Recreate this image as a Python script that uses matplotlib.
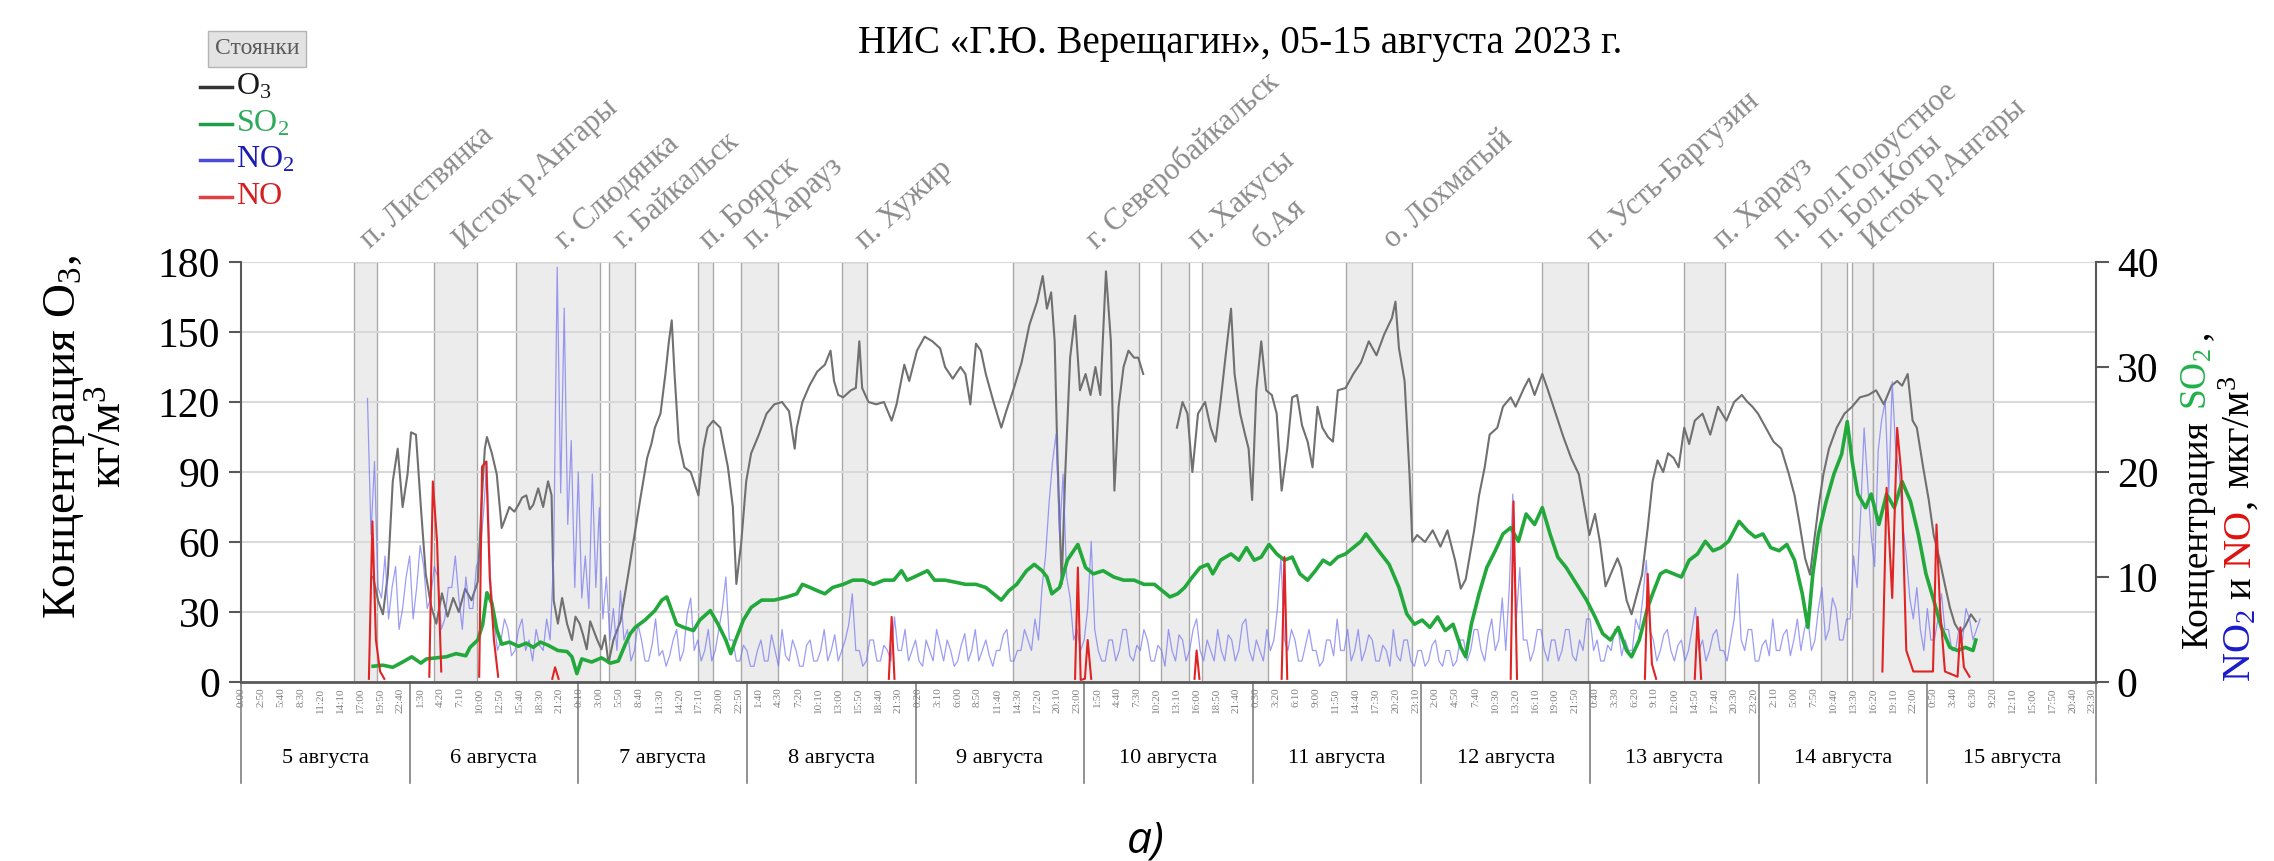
import numpy as np
import matplotlib
matplotlib.use('Agg')
import matplotlib.pyplot as plt
from matplotlib.lines import Line2D
from matplotlib.transforms import IdentityTransform, blended_transform_factory

plt.rcParams['font.family'] = ['Liberation Serif', 'DejaVu Serif']
plt.rcParams['mathtext.fontset'] = 'custom'
plt.rcParams['mathtext.rm'] = 'Liberation Serif'
plt.rcParams['mathtext.it'] = 'Liberation Serif:italic'
plt.rcParams['mathtext.bf'] = 'Liberation Serif:bold'
nan = np.nan

# time axis: hours from 5 Aug 2023 00:00
o3_hours = [18.8, 19.5, 20.2, 20.9, 21.6, 22.3, 23.0, 23.7, 24.2, 24.9, 25.6, 26.3, 27.1, 27.8,
            28.6, 29.4, 30.2, 31.0, 31.9, 32.8, 33.7, 34.2, 34.7, 35.0, 35.7, 36.4, 37.1, 37.6,
            38.2, 38.9, 39.5, 40.0, 40.6, 41.1, 41.6, 42.3, 43.0, 43.7, 44.2, 44.5, 45.1, 45.7,
            46.4, 47.1, 47.6, 48.2, 48.7, 49.2, 49.7, 50.2, 50.7, 51.3, 51.8, 52.3, 53.0, 53.5,
            54.0, 55.1, 56.1, 56.8, 57.8, 58.4, 58.9, 59.7, 60.4, 60.9, 61.3, 61.7, 62.3, 63.1,
            64.0, 65.1, 65.8, 66.4, 67.2, 68.2, 69.3, 70.0, 70.5, 71.2, 71.9, 72.6, 73.7, 74.8,
            75.9, 77.0, 78.0, 78.8, 79.1, 79.9, 80.9, 82.0, 83.1, 83.9, 84.4, 85.0, 85.7, 86.8,
            87.5, 88.0, 88.4, 89.3, 90.4, 91.5, 92.6, 93.3, 94.4, 95.1, 96.2, 97.3, 98.4, 99.5,
            100.2, 101.3, 102.4, 103.1, 103.8, 104.6, 105.3, 106.0, 107.1, 108.2, 108.9, 110.0,
            111.1, 112.2, 113.3, 114.1, 114.7, 115.3, 115.8, 116.2, 116.8, 117.3, 118.0, 118.7,
            119.4, 120.2, 120.9, 121.6, 122.3, 123.1, 123.8, 124.3, 124.9, 125.6, 126.3, 127.1,
            127.7, 128.4, 130.0, 133.2, 134.0, 134.7, 135.4, 136.2, 137.2, 138.0, 138.7, 139.4,
            140.1, 140.9, 141.4, 142.2, 142.9, 143.4, 143.9, 144.5, 145.2, 145.9, 146.7, 147.4,
            148.1, 148.9, 149.6, 150.3, 151.0, 151.8, 152.5, 153.2, 153.9, 154.7, 155.4, 156.1,
            157.2, 158.3, 159.4, 160.5, 161.6, 162.7, 163.8, 164.3, 164.8, 165.6, 166.3, 166.7,
            167.4, 168.5, 169.6, 170.7, 171.7, 172.8, 173.6, 174.3, 175.5, 176.2, 177.0, 177.7,
            178.8, 179.6, 180.7, 181.4, 182.6, 183.3, 184.1, 185.2, 185.9, 187.1, 188.2, 189.3,
            190.4, 191.2, 191.9, 192.7, 193.4, 194.2, 194.9, 195.9, 196.4, 197.2, 197.9, 198.7,
            199.4, 200.2, 200.9, 201.6, 202.4, 203.1, 203.9, 204.6, 205.4, 206.1, 206.9, 208.0,
            209.1, 210.2, 211.4, 212.5, 213.6, 214.4, 215.1, 215.9, 217.0, 218.1, 219.2, 220.3,
            221.1, 221.8, 222.6, 223.3, 223.7, 224.5, 225.2, 226.0, 227.1, 228.2, 229.3, 230.4,
            231.6, 232.7, 233.8, 234.9, 235.7, 236.4, 237.2, 237.9, 238.5, 239.4, 240.2, 240.9,
            241.7, 242.4, 243.2, 243.9, 244.7, 245.4, 246.2, 246.9]
o3_values = [45, 35, 29, 46, 86, 100, 75, 89, 107, 106, 75, 46, 32, 25,
             38, 28, 36, 30, 40, 35, 43, 75, 100, 105, 98, 89, 66, 70,
             75, 73, 76, 79, 80, 74, 76, 83, 75, 86, 80, 35, 25, 36,
             25, 18, 28, 25, 20, 14, 26, 22, 18, 14, 20, 8, 18, 22,
             26, 46, 65, 78, 96, 102, 109, 115, 132, 146, 155, 132, 103, 92,
             90, 80, 100, 109, 112, 109, 92, 75, 42, 60, 86, 98, 106, 115,
             119, 120, 116, 100, 109, 120, 127, 133, 136, 142, 129, 123, 122, 125,
             126, 146, 126, 120, 119, 120, 112, 119, 136, 129, 142, 148, 146, 143,
             135, 130, 135, 132, 119, 145, 142, 132, 120, 109, 116, 126,
             137, 153, 163, 174, 160, 167, 146, 96, 42, 89, 139, 157,
             125, 132, 123, 135, 123, 176, 146, 82, 118, 135, 142, 139,
             139, 132, nan, 109, 120, 115, 90, 115, 120, 109, 103, 120,
             139, 160, 132, 115, 106, 100, 78, 125, 146, 125, 123, 115,
             82, 100, 122, 123, 110, 103, 92, 118, 109, 105, 103, 125,
             126, 132, 137, 146, 140, 149, 156, 163, 143, 129, 89, 60,
             63, 60, 65, 58, 65, 52, 40, 44, 65, 80, 92, 106,
             109, 118, 122, 118, 126, 130, 123, 132, 126, 115, 105, 96,
             89, 75, 63, 72, 60, 41, 46, 53, 49, 35, 29, 38,
             46, 66, 86, 95, 90, 98, 96, 92, 109, 102, 112, 115,
             106, 118, 112, 120, 123, 120, 118, 115, 109, 103, 100, 89,
             80, 68, 53, 46, 56, 75, 89, 100, 109, 115, 118, 122,
             123, 125, 119, 127, 129, 127, 132, 112, 109, 92, 78, 63,
             53, 43, 32, 25, 21, 24, 29, 26]

so2_hours = [18.8, 20.2, 21.6, 23.0, 24.3, 25.6, 26.4, 27.8, 29.2, 30.6, 32.0, 32.6, 33.7, 34.4,
             35.0, 35.7, 36.4, 37.1, 38.2, 39.5, 40.6, 41.6, 42.6, 43.7, 45.1, 46.4, 47.1, 47.8,
             48.5, 49.9, 51.3, 52.6, 53.7, 54.7, 55.4, 56.1, 57.5, 58.9, 59.9, 60.6, 61.3, 62.0,
             63.0, 64.4, 65.3, 66.8, 67.9, 69.0, 69.7, 70.4, 71.5, 72.6, 74.1, 75.9, 77.7, 79.1,
             79.9, 81.0, 82.0, 83.1, 84.2, 85.7, 87.1, 88.6, 90.0, 91.5, 92.9, 94.0, 94.8, 95.8,
             97.7, 98.7, 100.2, 101.7, 103.1, 104.6, 106.0, 107.1, 108.2, 109.3, 110.4, 111.8,
             112.9, 114.0, 114.7, 115.4, 116.5, 117.6, 119.1, 120.2, 121.3, 122.7, 124.2, 125.6,
             127.1, 128.5, 130.0, 131.1, 132.2, 133.3, 134.3, 135.4, 136.5, 137.6, 138.3, 139.4,
             140.9, 142.0, 143.1, 144.2, 145.2, 146.3, 147.4, 148.5, 149.6, 150.7, 151.8, 152.9,
             154.0, 155.0, 156.1, 157.2, 158.3, 159.4, 160.1, 160.9, 161.9, 163.4, 164.8, 165.9,
             167.0, 168.1, 169.2, 170.3, 171.4, 172.5, 173.6, 174.3, 175.1, 176.2, 177.3, 178.5,
             179.6, 180.7, 181.8, 182.9, 184.1, 185.2, 186.3, 187.4, 188.6, 190.1, 191.5, 192.7,
             193.8, 194.9, 196.0, 197.2, 197.9, 199.0, 200.2, 200.9, 202.0, 202.8, 203.9, 205.0,
             206.1, 207.3, 208.4, 209.5, 210.6, 211.7, 213.2, 214.4, 215.5, 216.6, 217.7, 218.9,
             220.0, 221.1, 222.2, 223.0, 223.7, 224.5, 225.6, 226.7, 227.8, 228.6, 229.3, 230.1,
             231.2, 232.0, 233.1, 234.2, 235.3, 236.4, 237.6, 238.7, 239.8, 240.9, 242.0, 243.2,
             244.3, 245.4, 246.5, 246.9]
so2_values = [1.5, 1.6, 1.4, 1.9, 2.4, 1.8, 2.2, 2.3, 2.4, 2.7, 2.5, 3.3, 4.0, 5.5,
              8.5, 7.5, 5.0, 3.6, 3.8, 3.4, 3.7, 3.3, 3.8, 3.5, 3.0, 2.9, 2.4, 0.8,
              2.2, 1.9, 2.3, 1.8, 2.0, 3.6, 4.6, 5.2, 5.9, 6.8, 7.8, 8.1, 6.8, 5.5,
              5.2, 4.9, 5.9, 6.8, 5.5, 4.0, 2.7, 4.0, 5.9, 7.1, 7.8, 7.8, 8.1, 8.4,
              9.3, 9.0, 8.7, 8.4, 9.0, 9.3, 9.7, 9.7, 9.3, 9.7, 9.7, 10.6, 9.7, 10.0,
              10.6, 9.7, 9.7, 9.5, 9.3, 9.3, 9.0, 8.4, 7.8, 8.7, 9.3, 10.6,
              11.2, 10.6, 10.0, 8.4, 9.0, 11.6, 13.1, 10.9, 10.3, 10.6, 10.0, 9.7,
              9.7, 9.3, 9.3, 8.7, 8.1, 8.4, 9.0, 10.0, 10.9, 11.2, 10.3, 11.6,
              12.2, 11.6, 12.8, 11.6, 11.9, 13.1, 12.2, 11.6, 11.9, 10.3, 9.7, 10.6,
              11.6, 11.2, 11.9, 12.2, 12.8, 13.4, 14.1, 13.4, 12.5, 11.2, 9.0, 6.5,
              5.5, 5.9, 5.2, 6.2, 4.9, 5.5, 3.3, 2.4, 5.5, 8.4, 10.9, 12.5,
              14.1, 14.7, 13.4, 16.0, 15.0, 16.6, 14.1, 11.9, 10.9, 9.3, 7.8, 6.2,
              4.6, 4.0, 5.2, 3.0, 2.4, 4.0, 7.1, 8.4, 10.3, 10.6, 10.3, 10.0,
              11.6, 12.2, 13.4, 12.5, 12.8, 13.4, 15.3, 14.4, 13.8, 14.1, 12.8, 12.5,
              13.1, 11.6, 8.4, 5.2, 10.3, 14.1, 17.2, 19.8, 21.7, 24.8, 21.0, 17.9,
              16.6, 17.9, 15.0, 17.9, 16.6, 19.1, 17.2, 14.1, 10.3, 7.8, 5.2, 3.3,
              3.0, 3.3, 3.0, 4.0]

# NO2, half-hour readings from 18:00 on 5 Aug
no2_hours = np.arange(18, 248, 0.5)
no2_values = [27, 14, 21, 9, 8, 12, 6, 9, 11, 5, 7, 10, 12, 6, 9, 13, 11, 7, 8, 11, 10, 5, 6, 9,
              9, 12, 8, 5, 10, 7, 7, 11, 12, 16, 21, 10, 6, 3, 4, 6, 5, 2.5, 3, 5, 6, 3, 4, 2,
              5, 3.5, 3, 6, 4, 12, 39.5, 18, 35.6, 15, 23, 9, 20, 8, 12, 7, 19.8, 9, 16.6, 6,
              10, 4, 7, 3,
              8.7, 4, 5, 2, 3, 5.5, 4, 2, 2, 3.5, 6, 2.5, 3, 1.5, 2.5, 4, 5, 2, 3, 6.5, 8, 3,
              4, 2,
              3, 5, 2, 3, 5, 7, 10, 4, 4, 2, 2, 3.5, 3, 1.5, 1.5, 3, 4, 2, 2, 4.5, 3, 1.5, 5, 2.5,
              2, 4, 3, 1.5, 1.5, 3.5, 4, 2, 2, 3, 5, 2, 3, 4.5, 2, 3, 4, 5.5, 8.4, 3, 3, 1.5,
              2, 4,
              4, 2, 2, 3.5, 3, 2, 6.2, 3, 3, 5, 2, 3, 4, 2, 1.5, 4, 3, 2, 5, 3.5, 2, 4, 3, 1.5,
              2, 3.5, 4.6, 2, 3, 5, 2, 3, 4, 2.5, 1.5, 3, 3, 4.5, 5, 2, 2, 3, 3, 5, 4, 3, 6, 4,
              9, 12, 17, 21, 23.6, 14, 19.8, 10, 8, 4, 5, 3, 4, 7, 13.4, 5, 3, 2, 2, 4, 4, 2,
              3, 5,
              5, 2.5, 2, 3.5, 3, 5, 4, 2, 2, 3.5, 3, 1.5, 5, 3, 2, 4.5, 4, 2, 3, 5, 6, 3, 2, 4,
              3, 2, 5, 3, 2, 4.5, 4, 2, 3, 5.5, 6, 3, 2, 4, 3, 2, 5, 3, 4, 7, 11.9, 4, 3, 5,
              4, 2, 2, 3.5, 5, 3, 3, 1.5, 2, 4, 4, 2.5, 6, 3, 3, 5, 2, 3, 5, 2, 3, 4.5, 4, 2,
              2, 3.5, 3, 1.5, 5, 2.5, 2, 4, 4, 2, 1.5, 3, 3, 1.5, 2, 3.5, 4, 2, 1.5, 3, 3, 1.5,
              2, 4,
              4, 2, 3, 5, 5, 3, 2, 4.5, 6, 3, 4, 8, 3, 9, 17.9, 6, 10.9, 4, 4, 2, 3, 5, 5, 3,
              2, 4, 4, 2, 3, 5, 5, 2.5, 2, 4, 3, 6, 6, 3, 4, 2, 2, 3.5, 3, 5, 5, 2.5, 4, 3,
              3, 6, 5, 8, 11.6, 5, 4, 2, 3, 4.5, 5, 3, 2, 3.5, 4, 2, 3, 5, 7.1, 3, 4, 2, 3, 4.5,
              5, 3, 3, 2, 4, 6, 10.3, 4, 3, 5, 5, 2, 2, 3.5, 4, 2.5, 6, 3, 3, 4.5, 5, 2.5, 4, 6,
              3, 5, 6, 3, 4, 7, 9, 4, 5, 8, 7, 4, 4, 6, 6, 12, 9, 16, 24.2, 19, 14, 11, 22, 25,
              26.7, 18, 28.6, 22, 20, 15, 12, 8, 6, 9, 5, 3, 7, 4, 4, 6, 8.4, 5, 5, 3, 3, 5, 4, 7,
              6, 4, 5, 6]

# NO spikes; nan separates the episodes
no_hours = [18.2, 18.7, 19.2, 19.8, 20.4, 23.0,
            26.8, 27.3, 27.9, 28.5, 30.0,
            33.9, 34.3, 34.9, 35.4, 36.0, 36.6, 38.0,
            44.3, 44.7, 45.2, 46.0,
            92.2, 92.6, 93.0, 94.0,
            118.7, 119.1, 119.5, 120.1, 120.5, 121.0, 122.0,
            135.7, 136.0, 136.4, 137.0,
            148.1, 148.5, 148.9, 150.0,
            180.7, 181.1, 181.6, 183.0,
            199.8, 200.2, 200.8, 201.4, 203.0,
            206.9, 207.3, 207.8, 209.0,
            233.6, 234.2, 235.0, 235.7, 236.3, 237.0, 238.0, 240.8, 241.3, 241.8, 242.5, 244.3,
            244.7, 245.2, 246.0]
no_values = [0.3, 15.3, 4, 1, 0.3, nan,
             0.5, 19.1, 13.4, 1, nan,
             0.5, 20.5, 21, 10, 4, 0.5, nan,
             0.3, 1.4, 0.3, nan,
             0.3, 6.2, 0.3, nan,
             0.3, 10.9, 0.2, 0.3, 4, 0.3, nan,
             0.3, 3, 0.3, nan,
             0.3, 11.9, 0.3, nan,
             0.3, 17.2, 0.3, nan,
             0.3, 10.3, 1.7, 0.3, nan,
             0.3, 6.2, 0.3, nan,
             1, 18.5, 8, 24.2, 19.8, 3, 1, 1, 15, 7, 1, 0.5,
             5.2, 1.4, 0.5]

# ship stops (shaded) and their names
stop_start = [16.1, 27.5, 39.1, 52.4, 65.1, 71.2, 85.6, 109.9, 131.0, 136.7, 157.3, 185.2,
              205.3, 224.8, 229.3, 232.2]
stop_end = [19.4, 33.6, 51.1, 56.1, 67.2, 76.4, 89.1, 127.8, 134.9, 146.2, 166.7, 191.7,
            211.2, 228.6, 232.2, 249.3]
stop_names = ['п. Листвянка', 'Исток р.Ангары', 'г. Слюдянка', 'г. Байкальск', 'п. Боярск',
              'п. Харауз', 'п. Хужир', 'г. Северобайкальск', 'п. Хакусы', 'б.Ая',
              'о. Лохматый', 'п. Усть-Баргузин', 'п. Харауз', 'п. Бол.Голоустное',
              'п. Бол.Коты', 'Исток р.Ангары']
stop_label_hours = [18.3, 31.7, 46.1, 54.4, 66.7, 72.9, 88.8, 121.7, 136.2, 145.4, 164.0,
                    193.0, 210.9, 219.6, 225.8, 232.0]

day_labels = ['5 августа', '6 августа', '7 августа', '8 августа', '9 августа', '10 августа',
              '11 августа', '12 августа', '13 августа', '14 августа', '15 августа']
tick_step_min = 170

W, H = 2274, 861
fig = plt.figure(figsize=(W / 100, H / 100), dpi=100)
ax_l, ax_r, ax_t, ax_b = 241, 2096, 262, 682
ax = fig.add_axes([ax_l / W, 1 - ax_b / H, (ax_r - ax_l) / W, (ax_b - ax_t) / H])
n_days = len(day_labels)
ax.set_xlim(0, 24 * n_days)
ax.set_ylim(0, 180)

for s, e in zip(stop_start, stop_end):
    ax.axvspan(s, e, facecolor='#ececec', edgecolor='#a9a9a9', lw=1.0, zorder=0)
for v in range(30, 181, 30):
    ax.axhline(v, color='#d9d9d9', lw=1.5, zorder=0.5)

ax.plot(o3_hours, o3_values, color='#707070', lw=1.5, zorder=2)

ax2 = ax.twinx()
ax2.set_ylim(0, 40)
ax2.plot(no2_hours, no2_values, color='#7373f2', lw=0.9, alpha=0.7, zorder=2)
ax2.plot(so2_hours, so2_values, color='#23a83c', lw=2.6, zorder=3)
ax2.plot(no_hours, no_values, color='#e02424', lw=1.5, zorder=4)

# axes styling
ax.set_yticks(range(0, 181, 30))
ax2.set_yticks(range(0, 41, 10))
for a in (ax, ax2):
    for sp in a.spines.values():
        sp.set_visible(False)
ax.spines['left'].set_visible(True)
ax.spines['left'].set_color('#595959')
ax.spines['left'].set_linewidth(1.5)
ax.spines['bottom'].set_visible(True)
ax.spines['bottom'].set_color('#595959')
ax.spines['bottom'].set_linewidth(2.0)
ax2.spines['right'].set_visible(True)
ax2.spines['right'].set_color('#595959')
ax2.spines['right'].set_linewidth(1.5)
ax.tick_params(axis='y', labelsize=30, length=9, width=1.5, color='#595959', pad=6)
ax2.tick_params(axis='y', labelsize=30, length=9, width=1.5, color='#595959', pad=6)

ticks_min = np.arange(0, n_days * 1440, tick_step_min)
tick_labels = ['%d:%02d' % ((m % 1440) // 60, m % 60) for m in ticks_min]
ax.set_xticks(ticks_min / 60.0)
ax.set_xticklabels(tick_labels, rotation=90, fontsize=8, color='#808080')
ax.tick_params(axis='x', length=0, pad=4)

# day boxes under the axis
tr = blended_transform_factory(ax.transData, ax.transAxes)
for d in range(n_days + 1):
    ax.plot([24 * d, 24 * d], [0, -0.24], transform=tr, color='#7f7f7f', lw=1.2, clip_on=False)
for d, lab in enumerate(day_labels):
    ax.text(24 * d + 12, -0.182, lab, transform=tr, ha='center', va='center', fontsize=16)

# stop names above the plot
for name, h in zip(stop_names, stop_label_hours):
    ax.text(h, 1.03, name, transform=tr, rotation=42, rotation_mode='anchor', ha='left',
            va='baseline', fontsize=22, color='#8c8c8c')

fig.text(1240 / W, 1 - 44 / H, 'НИС «Г.Ю. Верещагин», 05-15 августа 2023 г.', ha='center',
         va='center', fontsize=28)

# legend
fig.text(257 / W, 1 - 49 / H, 'Стоянки', ha='center', va='center', fontsize=17, color='#5a5a5a',
         bbox=dict(boxstyle='square,pad=0.3', fc='#e3e3e3', ec='#b5b5b5', lw=1))
leg_items = [('O$_3$', '#333333', '#1a1a1a'), ('SO$_2$', '#1f9e4c', '#2eaa5a'),
             ('NO$_2$', '#4b4bd8', '#1c1cb0'), ('NO', '#e04040', '#d42020')]
for i, (lab, lc, tc) in enumerate(leg_items):
    yy = 1 - (87 + 36.5 * i) / H
    fig.add_artist(Line2D([200 / W, 232 / W], [yy, yy], color=lc, lw=2.5))
    fig.text(236 / W, yy, lab, ha='left', va='center', fontsize=23, color=tc)

# left axis label
fig.text(87 / W, 1 - 437 / H, 'Концентрация O$_3$,\nкг/м$^3$', rotation=90, ha='center',
         va='center', multialignment='center', fontsize=34, linespacing=1.05)

# right axis label in colored pieces
renderer = fig.canvas.get_renderer()


def vertical_pieces(x_px, y_px, pieces, size):
    y = y_px
    for txt, col, gap in pieces:
        y += gap
        t = fig.text(x_px, y, txt, color=col, fontsize=size, rotation=90, rotation_mode='anchor',
                     ha='left', va='baseline', transform=IdentityTransform())
        y = t.get_window_extent(renderer).y1


vertical_pieces(2207, H - 648, [('Концентрация', 'black', 0), ('SO$_2$', '#22b04a', 10),
                                (',', 'black', 8)], 27)
vertical_pieces(2250, H - 682, [('NO$_2$', '#1a1acc', 0), ('и', 'black', 10),
                                ('NO', '#e01010', 10), (',', 'black', 0),
                                ('мкг/м$^3$', 'black', 10)], 29)

fig.text(1146 / W, 1 - 841 / H, 'а)', fontsize=32, style='italic', family='Open Sans',
         ha='center', va='center')

fig.savefig('out.png', dpi=100)
